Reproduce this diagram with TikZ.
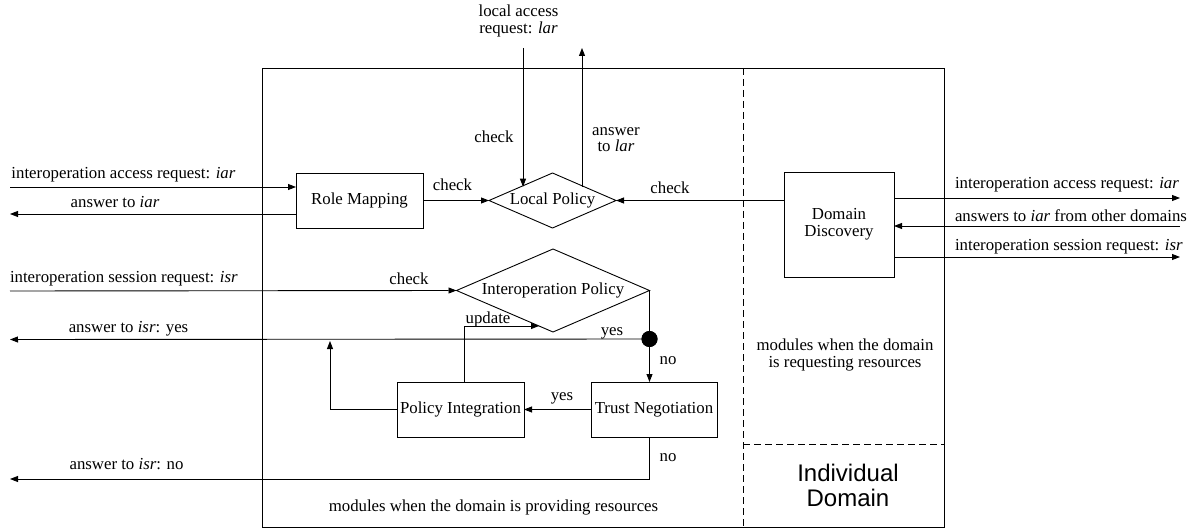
\documentclass[tikz,border=0pt]{standalone}
\usepackage{fontspec}
\setmainfont{Liberation Serif}
\newfontfamily\headfont{Liberation Sans}
\usetikzlibrary{arrows.meta,shapes.geometric,calc}

\tikzset{
  lbl/.style={inner sep=0pt, outer sep=0pt, align=center},
  module/.style={draw, line width=0.9pt, inner sep=0pt, outer sep=0pt,
                 minimum height=55pt, align=center},
  decision/.style={draw, diamond, line width=0.9pt, inner sep=0pt, outer sep=0pt},
  arr/.style={-{Triangle[length=8pt,width=6pt]}, line width=0.9pt},
  plain/.style={line width=0.9pt},
  divider/.style={line width=0.9pt, dash pattern=on 7pt off 4pt},
}

\begin{document}
\begin{tikzpicture}[x=1pt, y=-1pt, font=\fontsize{16.8}{16.5}\selectfont]
\useasboundingbox (0,0) rectangle (1196,529);

% domain frame and its two compartments
\draw[plain] (262,68) rectangle (944,527);
\draw[divider] (743,68) -- (743,527);
\draw[divider] (743,444) -- (944,444);

% modules
\node[module, minimum width=127pt] (rm) at (359.5,200.5) {Role Mapping};
\node[decision, aspect=2.3, minimum width=127pt, minimum height=55pt] (lp) at (552.5,200.5) {Local Policy};
\node[module, minimum width=110pt, minimum height=105pt] (dd) at (839,224.5) {Domain\\Discovery};
\node[decision, aspect=2.33, minimum width=193pt, minimum height=83pt] (ip) at (553,290.5) {Interoperation Policy};
\node[module, minimum width=127pt] (pi) at (460.5,409.5) {Policy Integration};
\node[module, minimum width=126pt] (tn) at (654,409.5) {Trust Negotiation};
\node[circle, fill=black, inner sep=0pt, minimum size=16pt] (dot) at ($(ip.east)+(0,48.5)$) {};

% free ends of the connectors
\coordinate (lartop) at (523,48);
\coordinate (lansw) at (582,48);
\coordinate (iarin) at (10,187);
\coordinate (iarout) at (10,214);
\coordinate (isrin) at (10,291);
\coordinate (yesout) at (10,339.5);
\coordinate (noout) at (10,479);
\coordinate (upend) at (330,341);
\coordinate (extiar) at (1180,198);
\coordinate (extans) at (1180,226);
\coordinate (extisr) at (1180,257);
\coordinate (updtip) at ($(ip.west)!0.855!(ip.south)$);

% local access
\draw[arr] (lartop) -- (lartop |- lp.north west);
\draw[arr] (lansw |- lp.north east) -- (lansw);

% interoperation access
\draw[arr] (iarin) -- (iarin -| rm.west);
\draw[arr] (iarout -| rm.west) -- (iarout);
\draw[arr] (rm.east) -- (lp.west);
\draw[arr] (dd.west |- lp.east) -- (lp.east);

% domain discovery towards other domains
\draw[arr] (extiar -| dd.east) -- (extiar);
\draw[arr] (extans) -- (extans -| dd.east);
\draw[arr] (extisr -| dd.east) -- (extisr);

% interoperation session
\draw[arr] (isrin) -- (ip.west);
\draw[plain] (ip.east) -- (dot.center);
\draw[arr] (dot.center) -- (yesout);
\draw[arr] (dot.center) -- (dot |- tn.north);
\draw[arr] (tn.west) -- (pi.east);
\draw[arr] (pi.west) -| (upend);
\draw[arr] ($(pi.north)+(3.5,0)$) |- (updtip);
\draw[arr] (tn.south -| dot) |- (noout);
\node[circle, fill=black, inner sep=0pt, minimum size=16pt] at (dot) {};

% labels
\node[lbl] at (518.5,21) {local access\\request: \textit{lar}};
\node[lbl] at (494,137) {check};
\node[lbl] at (616,139.5) {answer\\to \textit{lar}};
\node[lbl, anchor=west] at (11.5,175) {interoperation access request: \textit{iar}};
\node[lbl] at (115,202) {answer to \textit{iar}};
\node[lbl] at (452.5,185) {check};
\node[lbl] at (670,188) {check};
\node[lbl, anchor=west] at (955,185) {interoperation access request: \textit{iar}};
\node[lbl, anchor=west] at (955,216) {answers to \textit{iar} from other domains};
\node[lbl, anchor=west] at (955,247) {interoperation session request: \textit{isr}};
\node[lbl, anchor=west] at (10,279) {interoperation session request: \textit{isr}};
\node[lbl] at (409,279) {check};
\node[lbl] at (488,319) {update};
\node[lbl] at (128.5,329) {answer to \textit{isr}: yes};
\node[lbl] at (612,333) {yes};
\node[lbl] at (668,361) {no};
\node[lbl] at (562,398) {yes};
\node[lbl] at (668,458) {no};
\node[lbl] at (126.5,464) {answer to \textit{isr}: no};
\node[lbl] at (493.5,507) {modules when the domain is providing resources};
\node[lbl] at (845,355) {modules when the domain\\is requesting resources};
\node[lbl, font=\headfont\fontsize{24}{25}\selectfont] at (848,485.5) {Individual\\Domain};
\end{tikzpicture}
\end{document}
